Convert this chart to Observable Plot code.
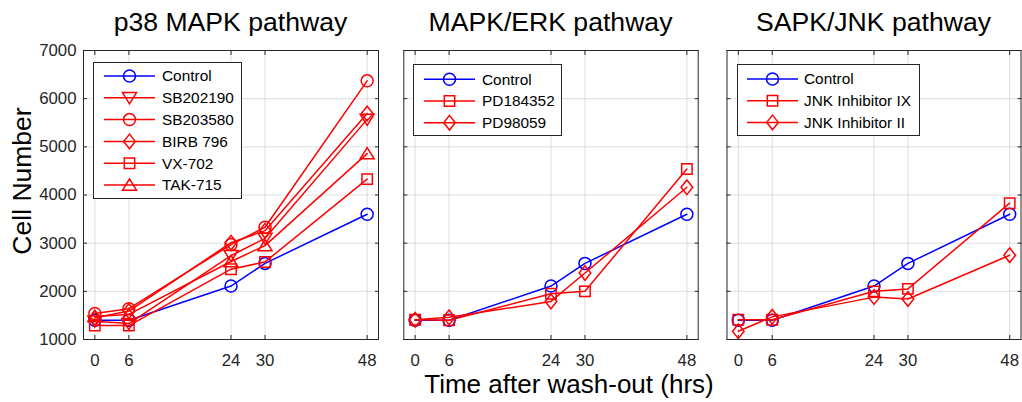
<!DOCTYPE html>
<html>
<head>
<meta charset="utf-8">
<script src="https://cdn.jsdelivr.net/npm/d3@7"></script>
<script src="https://cdn.jsdelivr.net/npm/@observablehq/plot@0.6"></script>
<style>
html, body { margin: 0; padding: 0; background: #fff; }
#root { position: relative; width: 1022px; height: 402px; overflow: hidden; font-family: "Liberation Sans", Arial, sans-serif; }
#root > svg, #root > div { position: absolute; top: 0; }
</style>
</head>
<body>
<div id="root"></div>
<script>
// ---------- data ----------
const hours = [0, 6, 24, 30, 48];
const yTicks = [1000, 2000, 3000, 4000, 5000, 6000, 7000];
const titles = ["p38 MAPK pathway", "MAPK/ERK pathway", "SAPK/JNK pathway"];
const xLabel = "Time after wash-out (hrs)";
const yLabel = "Cell Number";

const control = [1400, 1400, 2110, 2580, 3600];

// p38 MAPK pathway
const p38Names = ["Control", "SB202190", "SB203580", "BIRB 796", "VX-702", "TAK-715"];
const sb202190 = [1380, 1330, 2740, 3100, 5570];
const sb203580 = [1540, 1640, 2970, 3330, 6370];
const birb796  = [1450, 1590, 3010, 3260, 5690];
const vx702    = [1290, 1290, 2460, 2610, 4330];
const tak715   = [1480, 1520, 2620, 2950, 4860];

// MAPK/ERK pathway
const erkNames = ["Control", "PD184352", "PD98059"];
const pd184352 = [1410, 1400, 1950, 2000, 4540];
const pd98059  = [1410, 1460, 1790, 2380, 4160];

// SAPK/JNK pathway
const jnkNames = ["Control", "JNK Inhibitor IX", "JNK Inhibitor II"];
const jnkIX = [1410, 1410, 2000, 2050, 3830];
const jnkII = [1170, 1470, 1880, 1840, 2750];

const colors = {control: "#0000ff", inhibitor: "#ff0000"};

// ---------- marker shapes (MATLAB-like) ----------
const sym = {
  circle: {draw(c) { c.moveTo(6, 0); c.arc(0, 0, 6, 0, 2 * Math.PI); }},
  square: {draw(c) { c.moveTo(-5.2, -5.2); c.lineTo(5.2, -5.2); c.lineTo(5.2, 5.2); c.lineTo(-5.2, 5.2); c.closePath(); }},
  diamond: {draw(c) { c.moveTo(0, -7.3); c.lineTo(5.8, 0); c.lineTo(0, 7.3); c.lineTo(-5.8, 0); c.closePath(); }},
  triUp: {draw(c) { c.moveTo(0, -6); c.lineTo(7, 5.2); c.lineTo(-7, 5.2); c.closePath(); }},
  triDown: {draw(c) { c.moveTo(0, 6); c.lineTo(7, -5.2); c.lineTo(-7, -5.2); c.closePath(); }}
};

const panels = [
  {names: p38Names, values: [control, sb202190, sb203580, birb796, vx702, tak715],
   symbols: [sym.circle, sym.triDown, sym.circle, sym.diamond, sym.square, sym.triUp],
   left: 0, width: 390, ml: 83, mr: 12, yLabels: true,
   legend: {x: 93, y: 62, w: 148, h: 136, row0: 76, step: 21.8, lx: 104, lx2: 155, tx: 162}},
  {names: erkNames, values: [control, pd184352, pd98059],
   symbols: [sym.circle, sym.square, sym.diamond],
   left: 390, width: 320, ml: 13.3, mr: 12.3, yLabels: false,
   legend: {x: 413, y: 64, w: 148, h: 71, row0: 79.3, step: 21.7, lx: 424, lx2: 475, tx: 482}},
  {names: jnkNames, values: [control, jnkIX, jnkII],
   symbols: [sym.circle, sym.square, sym.diamond],
   left: 710, width: 312, ml: 16.5, mr: 1.5, yLabels: false,
   legend: {x: 737, y: 64, w: 182, h: 71, row0: 79, step: 21.7, lx: 747, lx2: 798, tx: 804}}
];

const root = document.getElementById("root");
const axisColor = "#262626";

panels.forEach((p, pi) => {
  const series = p.names.map((name, i) => ({
    name,
    color: i === 0 ? colors.control : colors.inhibitor,
    symbol: p.symbols[i],
    rows: hours.map((t, j) => ({t, v: p.values[i][j]}))
  }));
  const marks = [
    Plot.gridX(hours, {stroke: axisColor, strokeOpacity: 0.15, strokeWidth: 1}),
    Plot.gridY(yTicks, {stroke: axisColor, strokeOpacity: 0.15, strokeWidth: 1}),
    Plot.axisX(hours, {anchor: "bottom", tickSize: -4, tickPadding: 18.8, stroke: axisColor, fill: axisColor}),
    Plot.axisX(hours, {anchor: "top", tickSize: -4, tickFormat: () => "", stroke: axisColor}),
    Plot.axisY(yTicks, {anchor: "left", tickSize: -4, tickPadding: 11, stroke: axisColor, fill: axisColor,
      tickFormat: p.yLabels ? (d => String(d)) : (() => "")}),
    Plot.axisY(yTicks, {anchor: "right", tickSize: -4, tickFormat: () => "", stroke: axisColor})
  ];
  series.forEach(s => {
    marks.push(Plot.line(s.rows, {x: "t", y: "v", stroke: s.color, strokeWidth: 1.5}));
    marks.push(Plot.dot(s.rows, {x: "t", y: "v", stroke: s.color, fill: "none", strokeWidth: 1.5, symbol: s.symbol, r: 6}));
  });
  marks.push(Plot.frame({stroke: axisColor, strokeWidth: 1}));

  const svg = Plot.plot({
    width: p.width, height: 402,
    marginLeft: p.ml, marginRight: p.mr, marginTop: 50, marginBottom: 63,
    x: {domain: [-2, 50], label: null},
    y: {domain: [1000, 7000], label: null},
    style: {fontFamily: '"Liberation Sans", Arial, sans-serif', fontSize: "16.8px", color: axisColor, background: "transparent", overflow: "visible"},
    marks
  });
  svg.style.left = p.left + "px";
  svg.style.position = "absolute";
  svg.style.top = "0px";
  root.appendChild(svg);
  p.series = series;
});

// ---------- overlay: titles, axis labels, legends ----------
const ns = "http://www.w3.org/2000/svg";
const ov = document.createElementNS(ns, "svg");
ov.setAttribute("width", 1022);
ov.setAttribute("height", 402);
ov.style.position = "absolute";
ov.style.left = "0px";
ov.style.top = "0px";
ov.style.fontFamily = '"Liberation Sans", Arial, sans-serif';
root.appendChild(ov);

function el(tag, attrs, text) {
  const e = document.createElementNS(ns, tag);
  for (const k in attrs) e.setAttribute(k, attrs[k]);
  if (text != null) e.textContent = text;
  ov.appendChild(e);
  return e;
}

panels.forEach((p, pi) => {
  const cx = p.left + p.ml + (p.width - p.ml - p.mr) / 2;
  el("text", {x: cx, y: 31, "text-anchor": "middle", "font-size": "26.6px", fill: "#000"}, titles[pi]);
  const L = p.legend;
  el("rect", {x: L.x + 0.5, y: L.y + 0.5, width: L.w, height: L.h, fill: "#fff", stroke: axisColor, "stroke-width": 1});
  p.series.forEach((s, i) => {
    const yy = L.row0 + i * L.step;
    el("line", {x1: L.lx, x2: L.lx2, y1: yy, y2: yy, stroke: s.color, "stroke-width": 1.5});
    const path = d3.path();
    s.symbol.draw(path);
    el("path", {d: path.toString(), transform: `translate(${(L.lx + L.lx2) / 2},${yy})`, fill: "none", stroke: s.color, "stroke-width": 1.5});
    el("text", {x: L.tx, y: yy, dy: "0.35em", "font-size": "15.4px", fill: "#000"}, s.name);
  });
});

el("text", {x: 569, y: 392.5, "text-anchor": "middle", "font-size": "26px", fill: "#000"}, xLabel);
el("text", {transform: "translate(31,181) rotate(-90)", "text-anchor": "middle", "font-size": "26.5px", fill: "#000"}, yLabel);
</script>
</body>
</html>
